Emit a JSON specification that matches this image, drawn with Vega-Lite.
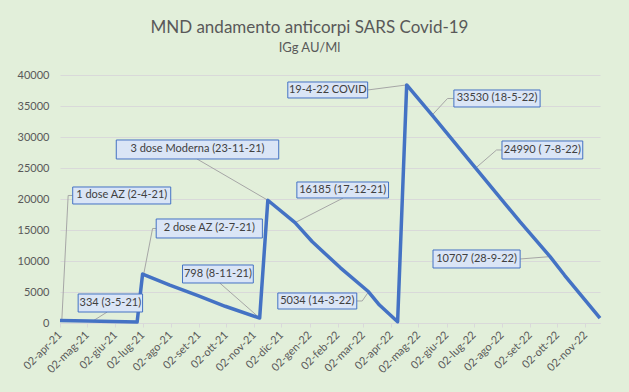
{
  "$schema": "https://vega.github.io/schema/vega-lite/v6.json",
  "width": 540,
  "height": 248,
  "autosize": {"type": "none"},
  "padding": {"left": 60, "top": 75, "right": 29, "bottom": 69},
  "background": "#E2EFDA",
  "title": {
    "text": "MND andamento anticorpi SARS Covid-19",
    "subtitle": "IGg AU/Ml",
    "anchor": "middle",
    "frame": "bounds",
    "font": "Lato",
    "fontSize": 17,
    "fontWeight": "normal",
    "color": "#595959",
    "subtitleFont": "Lato",
    "subtitleFontSize": 13,
    "subtitleColor": "#595959",
    "subtitlePadding": 5,
    "offset": 13
  },
  "datasets": {
    "series": [
      {"d": "2021-04-02", "v": 400},
      {"d": "2021-05-03", "v": 334},
      {"d": "2021-06-26", "v": 150},
      {"d": "2021-07-02", "v": 7900},
      {"d": "2021-08-01", "v": 6100},
      {"d": "2021-09-01", "v": 4400},
      {"d": "2021-10-01", "v": 2700},
      {"d": "2021-11-08", "v": 798},
      {"d": "2021-11-17", "v": 19800},
      {"d": "2021-12-17", "v": 16185},
      {"d": "2022-01-05", "v": 13100},
      {"d": "2022-02-05", "v": 8900},
      {"d": "2022-03-08", "v": 5034},
      {"d": "2022-03-20", "v": 2900},
      {"d": "2022-04-09", "v": 200},
      {"d": "2022-04-19", "v": 38400},
      {"d": "2022-05-17", "v": 33530},
      {"d": "2022-07-04", "v": 24990},
      {"d": "2022-08-22", "v": 16300},
      {"d": "2022-09-24", "v": 10707},
      {"d": "2022-10-10", "v": 7700},
      {"d": "2022-11-18", "v": 800}
    ],
    "boxes": [
      {"label": "1 dose AZ (2-4-21)", "d": "2021-04-16", "d2": "2021-08-02", "v": 19195, "v2": 21937},
      {"label": "334 (3-5-21)", "d": "2021-04-22", "d2": "2021-07-02", "v": 1774, "v2": 4678},
      {"label": "2 dose AZ (2-7-21)", "d": "2021-07-17", "d2": "2021-11-11", "v": 13711, "v2": 16775},
      {"label": "3 dose Moderna (23-11-21)", "d": "2021-06-03", "d2": "2021-11-29", "v": 26453, "v2": 29518},
      {"label": "798 (8-11-21)", "d": "2021-08-15", "d2": "2021-11-01", "v": 6452, "v2": 9355},
      {"label": "16185 (17-12-21)", "d": "2021-12-19", "d2": "2022-03-30", "v": 20163, "v2": 22743},
      {"label": "5034 (14-3-22)", "d": "2021-11-28", "d2": "2022-02-23", "v": 2258, "v2": 4839},
      {"label": "19-4-22 COVID", "d": "2021-12-09", "d2": "2022-03-07", "v": 36292, "v2": 38873},
      {"label": "33530 (18-5-22)", "d": "2022-06-10", "d2": "2022-09-13", "v": 34841, "v2": 37582},
      {"label": "24990 ( 7-8-22)", "d": "2022-08-02", "d2": "2022-10-30", "v": 26453, "v2": 29357},
      {"label": "10707 (28-9-22)", "d": "2022-05-18", "d2": "2022-08-22", "v": 8872, "v2": 11775}
    ],
    "leaders": [
      {"id": 1, "o": 1, "d": "2021-04-16", "v": 20566},
      {"id": 1, "o": 2, "d": "2021-04-11", "v": 20566},
      {"id": 1, "o": 3, "d": "2021-04-04", "v": 450},
      {"id": 2, "o": 1, "d": "2021-05-24", "v": 1774},
      {"id": 2, "o": 2, "d": "2021-05-08", "v": 300},
      {"id": 3, "o": 1, "d": "2021-07-17", "v": 15243},
      {"id": 3, "o": 2, "d": "2021-07-13", "v": 15243},
      {"id": 3, "o": 3, "d": "2021-07-03", "v": 7700},
      {"id": 4, "o": 1, "d": "2021-08-31", "v": 26453},
      {"id": 4, "o": 2, "d": "2021-11-17", "v": 19800},
      {"id": 5, "o": 1, "d": "2021-09-25", "v": 6452},
      {"id": 5, "o": 2, "d": "2021-11-08", "v": 798},
      {"id": 6, "o": 1, "d": "2022-02-08", "v": 20163},
      {"id": 6, "o": 2, "d": "2021-12-17", "v": 16185},
      {"id": 7, "o": 1, "d": "2022-02-23", "v": 3549},
      {"id": 7, "o": 2, "d": "2022-03-01", "v": 3549},
      {"id": 7, "o": 3, "d": "2022-03-08", "v": 5034},
      {"id": 8, "o": 1, "d": "2022-03-07", "v": 37582},
      {"id": 8, "o": 2, "d": "2022-04-19", "v": 38400},
      {"id": 9, "o": 1, "d": "2022-06-10", "v": 36212},
      {"id": 9, "o": 2, "d": "2022-06-03", "v": 36212},
      {"id": 9, "o": 3, "d": "2022-05-17", "v": 33530},
      {"id": 10, "o": 1, "d": "2022-08-02", "v": 27905},
      {"id": 10, "o": 2, "d": "2022-07-27", "v": 27905},
      {"id": 10, "o": 3, "d": "2022-07-04", "v": 24990},
      {"id": 11, "o": 1, "d": "2022-08-22", "v": 10323},
      {"id": 11, "o": 2, "d": "2022-09-24", "v": 10707}
    ]
  },
  "encoding": {
    "x": {
      "field": "d", "type": "temporal",
      "scale": {"type": "utc", "domain": [
        {"year": 2021, "month": 4, "date": 2, "utc": true},
        {"year": 2022, "month": 11, "date": 18, "utc": true}
      ]},
      "axis": {
        "title": null,
        "values": [
          {"year": 2021, "month": 4, "date": 2, "utc": true},
          {"year": 2021, "month": 5, "date": 2, "utc": true},
          {"year": 2021, "month": 6, "date": 2, "utc": true},
          {"year": 2021, "month": 7, "date": 2, "utc": true},
          {"year": 2021, "month": 8, "date": 2, "utc": true},
          {"year": 2021, "month": 9, "date": 2, "utc": true},
          {"year": 2021, "month": 10, "date": 2, "utc": true},
          {"year": 2021, "month": 11, "date": 2, "utc": true},
          {"year": 2021, "month": 12, "date": 2, "utc": true},
          {"year": 2022, "month": 1, "date": 2, "utc": true},
          {"year": 2022, "month": 2, "date": 2, "utc": true},
          {"year": 2022, "month": 3, "date": 2, "utc": true},
          {"year": 2022, "month": 4, "date": 2, "utc": true},
          {"year": 2022, "month": 5, "date": 2, "utc": true},
          {"year": 2022, "month": 6, "date": 2, "utc": true},
          {"year": 2022, "month": 7, "date": 2, "utc": true},
          {"year": 2022, "month": 8, "date": 2, "utc": true},
          {"year": 2022, "month": 9, "date": 2, "utc": true},
          {"year": 2022, "month": 10, "date": 2, "utc": true},
          {"year": 2022, "month": 11, "date": 2, "utc": true}
        ],
        "labelExpr": "'02-' + ['gen','feb','mar','apr','mag','giu','lug','ago','set','ott','nov','dic'][utcmonth(datum.value)] + '-' + utcFormat(datum.value, '%y')",
        "labelAngle": -45,
        "labelAlign": "right",
        "labelBaseline": "middle",
        "labelFont": "Lato",
        "labelFontSize": 11,
        "labelColor": "#595959",
        "labelPadding": 6,
        "labelOverlap": false,
        "labelBound": false,
        "labelFlush": false,
        "grid": false,
        "domainColor": "#D9D9D9",
        "domainWidth": 1,
        "tickColor": "#D9D9D9",
        "tickSize": 4
      }
    },
    "y": {
      "field": "v", "type": "quantitative",
      "scale": {"domain": [0, 40000], "nice": false},
      "axis": {
        "title": null,
        "values": [0, 5000, 10000, 15000, 20000, 25000, 30000, 35000, 40000],
        "labelOverlap": false,
        "format": "d",
        "labelFont": "Lato",
        "labelFontSize": 11,
        "labelColor": "#595959",
        "labelPadding": 11,
        "domain": false,
        "ticks": false,
        "grid": true,
        "gridColor": "#D9D9D9",
        "gridWidth": 1
      }
    }
  },
  "layer": [
    {
      "data": {"name": "leaders"},
      "mark": {"type": "line", "color": "#A6A6A6", "strokeWidth": 1},
      "encoding": {
        "detail": {"field": "id", "type": "nominal"},
        "order": {"field": "o", "type": "quantitative"}
      }
    },
    {
      "data": {"name": "series"},
      "mark": {"type": "line", "color": "#4472C4", "strokeWidth": 3.5, "strokeJoin": "round"},
      "encoding": {}
    },
    {
      "data": {"name": "boxes"},
      "mark": {"type": "rect", "fill": "#DAE5F6", "stroke": "#4472C4", "strokeWidth": 1},
      "encoding": {
        "x2": {"field": "d2"},
        "y2": {"field": "v2"}
      }
    },
    {
      "data": {"name": "boxes"},
      "transform": [
        {"calculate": "(time(datum.d) + time(datum.d2)) / 2", "as": "d"},
        {"calculate": "(datum.v + datum.v2) / 2", "as": "v"}
      ],
      "mark": {"type": "text", "font": "Lato", "fontSize": 11, "color": "#404040", "baseline": "middle", "align": "center"},
      "encoding": {
        "text": {"field": "label", "type": "nominal"}
      }
    }
  ],
  "config": {
    "view": {"stroke": null}
  }
}
